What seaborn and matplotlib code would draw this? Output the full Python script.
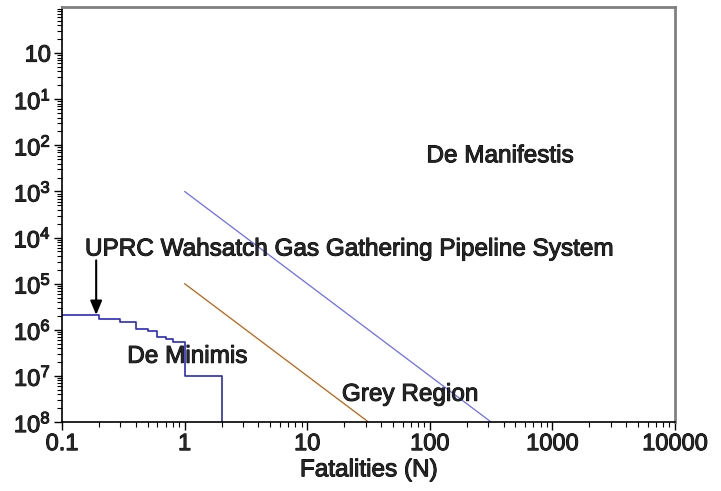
import matplotlib
matplotlib.use("Agg")
import matplotlib.pyplot as plt
import matplotlib.patheffects as pe
import seaborn as sns
import pandas as pd
import numpy as np
from matplotlib.ticker import LogLocator, FixedLocator, NullFormatter

# ---- data ----
step_n = [0.1, 0.2, 0.3, 0.4, 0.5, 0.6, 0.7, 0.8, 1, 2]
step_f = [2.1e-6, 1.75e-6, 1.45e-6, 1.05e-6, 9.2e-7, 7.0e-7, 6.2e-7, 5.5e-7, 1e-7, 1e-8]
upper_n = [1, 316]
upper_f = [1e-3, 1e-8]
lower_n = [1, 31.6]
lower_f = [1e-5, 1e-8]
x_ticks = [0.1, 1, 10, 100, 1000, 10000]
x_labels = ["0.1", "1", "10", "100", "1000", "10000"]
y_ticks = [1e0, 1e-1, 1e-2, 1e-3, 1e-4, 1e-5, 1e-6, 1e-7, 1e-8]
y_labels = ["10", r"10$^{1}$", r"10$^{2}$", r"10$^{3}$", r"10$^{4}$",
            r"10$^{5}$", r"10$^{6}$", r"10$^{7}$", r"10$^{8}$"]

sns.set_style("white")
plt.rcParams['font.family'] = ['Liberation Sans', 'DejaVu Sans']
plt.rcParams['mathtext.default'] = 'regular'

heavy = [pe.withStroke(linewidth=0.7, foreground="black")]

fig = plt.figure(figsize=(7.21, 4.91), dpi=100)
ax = fig.add_axes([62/721, 69/491, (675-62)/721, (422-7)/491])

df_step = pd.DataFrame({"N": step_n, "F": step_f})
df_up = pd.DataFrame({"N": upper_n, "F": upper_f})
df_lo = pd.DataFrame({"N": lower_n, "F": lower_f})

sns.lineplot(data=df_up, x="N", y="F", ax=ax, color="#6a6aff", lw=0.9)
sns.lineplot(data=df_lo, x="N", y="F", ax=ax, color="#c0600c", lw=0.9)
sns.lineplot(data=df_step, x="N", y="F", ax=ax, color="#2a2ac0", lw=1.2,
             drawstyle="steps-post")

ax.set_xscale("log")
ax.set_yscale("log")
ax.set_xlim(0.1, 10000)
ax.set_ylim(1e-8, 10)

ax.xaxis.set_major_locator(FixedLocator(x_ticks))
ax.set_xticklabels(x_labels)
ax.xaxis.set_minor_locator(LogLocator(base=10, subs=np.arange(2, 10)))
ax.xaxis.set_minor_formatter(NullFormatter())
ax.yaxis.set_major_locator(FixedLocator(y_ticks))
ax.set_yticklabels(y_labels)
ax.yaxis.set_minor_locator(LogLocator(base=10, subs=np.arange(2, 10), numticks=20))
ax.yaxis.set_minor_formatter(NullFormatter())

ax.tick_params(axis="both", which="major", direction="out", length=6, width=1,
               labelsize=17, color="black", bottom=True, left=True, pad=2)
ax.tick_params(axis="both", which="minor", direction="out", length=3.5, width=0.8,
               color="black", bottom=True, left=True)
for lab in ax.get_xticklabels() + ax.get_yticklabels():
    lab.set_path_effects(heavy)

for s in ["left", "bottom"]:
    ax.spines[s].set_color("black")
    ax.spines[s].set_linewidth(1.2)
for s in ["top", "right"]:
    ax.spines[s].set_color("#808080")
    ax.spines[s].set_linewidth(2)

xl = ax.set_xlabel("Fatalities (N)", fontsize=17.5, labelpad=3)
xl.set_path_effects(heavy)
ax.set_ylabel("")

for x, y, s, ha in [(373, 5.8e-3, "De Manifestis", "center"),
                    (0.154, 5.5e-5, "UPRC Wahsatch Gas Gathering Pipeline System", "left"),
                    (1.05, 2.6e-7, "De Minimis", "center"),
                    (69, 3.9e-8, "Grey Region", "center")]:
    t = ax.text(x, y, s, fontsize=17.5, ha=ha, va="center")
    t.set_path_effects(heavy)

ax.annotate("", xy=(0.19, 2.1e-6), xytext=(0.19, 3.2e-5),
            arrowprops=dict(arrowstyle="-|>,head_length=0.6,head_width=0.25",
                            color="black", lw=1.5,
                            mutation_scale=14, shrinkA=0, shrinkB=0))

fig.savefig("out.png", dpi=100)
